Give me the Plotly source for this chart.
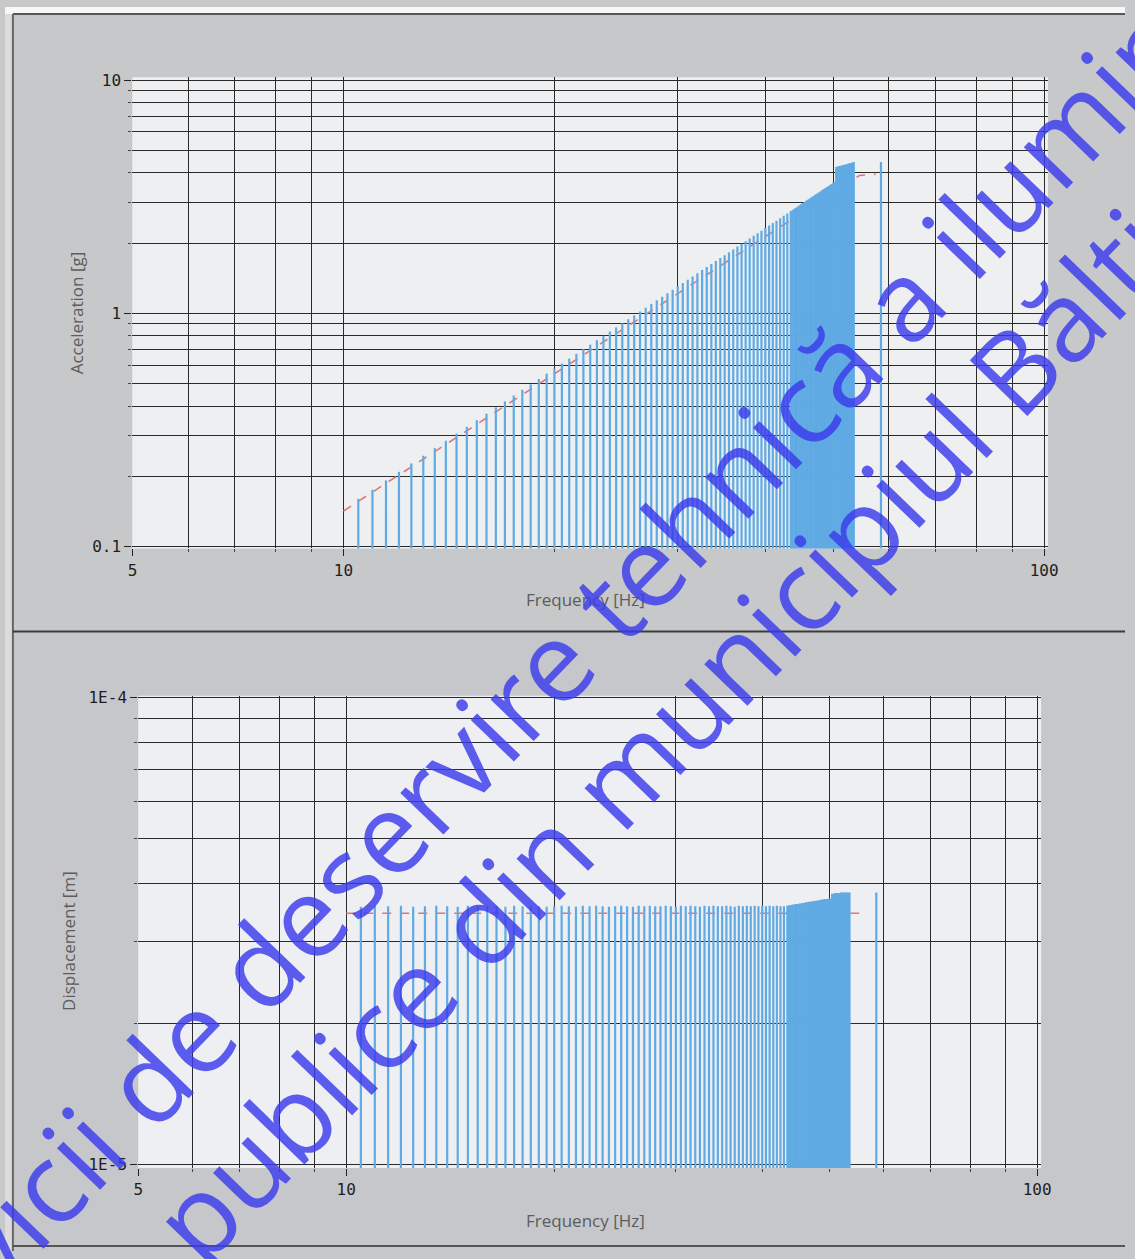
import plotly.graph_objects as go

W, H = 1135, 1259

# ---------------- data ----------------
freq_hz = [
    10.5, 11.0, 11.5, 12.0, 12.5, 13.0, 13.5, 14.0, 14.5, 15.0,
    15.5, 16.0, 16.5, 17.0, 17.5, 18.0, 18.5, 19.0, 19.5, 20.0,
    20.5, 21.0, 21.5, 22.0, 22.5, 23.0, 23.5, 24.0, 24.5, 25.0,
    25.5, 26.0, 26.5, 27.0, 27.5, 28.0, 28.5, 29.0, 29.5, 30.0,
    30.5, 31.0, 31.5, 32.0, 32.5, 33.0, 33.5, 34.0, 34.5, 35.0,
    35.5, 36.0, 36.5, 37.0, 37.5, 38.0, 38.5, 39.0, 39.5, 40.0,
    40.5, 41.0, 41.5, 42.0, 42.5, 43.0,
    43.5, 43.75, 44.0, 44.25, 44.5, 44.75, 45.0, 45.25, 45.5, 45.75,
    46.0, 46.25, 46.5, 46.75, 47.0, 47.25, 47.5, 47.75, 48.0, 48.25,
    48.5, 48.75, 49.0, 49.25, 49.5, 49.75, 50.0, 50.25,
    50.5, 50.75, 51.0, 51.25, 51.5, 51.75, 52.0, 52.25, 52.5, 52.75,
    53.0, 53.25, 53.5,
    58.5,
]

accel_g = [
    0.160, 0.175, 0.192, 0.209, 0.227, 0.245, 0.264, 0.284, 0.305, 0.326,
    0.348, 0.371, 0.395, 0.419, 0.444, 0.470, 0.496, 0.523, 0.551, 0.580,
    0.609, 0.639, 0.670, 0.702, 0.734, 0.767, 0.801, 0.835, 0.870, 0.906,
    0.943, 0.980, 1.018, 1.057, 1.097, 1.137, 1.178, 1.219, 1.262, 1.305,
    1.349, 1.393, 1.439, 1.485, 1.532, 1.579, 1.627, 1.676, 1.726, 1.776,
    1.827, 1.879, 1.932, 1.985, 2.039, 2.094, 2.149, 2.205, 2.262, 2.320,
    2.378, 2.437, 2.497, 2.558, 2.619, 2.681,
    2.744, 2.775, 2.807, 2.839, 2.871, 2.904, 2.936, 2.969, 3.002, 3.035,
    3.068, 3.102, 3.135, 3.169, 3.203, 3.237, 3.272, 3.306, 3.341, 3.376,
    3.411, 3.446, 3.481, 3.517, 3.553, 3.589, 3.625, 3.661,
    4.24, 4.26, 4.28, 4.29, 4.31, 4.33, 4.35, 4.36, 4.38, 4.40,
    4.41, 4.43, 4.45,
    4.45,
]

disp_m = [
    3.56e-5, 3.58e-5, 3.57e-5, 3.58e-5, 3.56e-5, 3.57e-5, 3.58e-5, 3.57e-5, 3.56e-5, 3.58e-5,
    3.57e-5, 3.58e-5, 3.57e-5, 3.56e-5, 3.58e-5, 3.57e-5, 3.58e-5, 3.57e-5, 3.56e-5, 3.57e-5,
    3.58e-5, 3.57e-5, 3.56e-5, 3.58e-5, 3.57e-5, 3.58e-5, 3.57e-5, 3.56e-5, 3.57e-5, 3.58e-5,
    3.57e-5, 3.56e-5, 3.58e-5, 3.57e-5, 3.58e-5, 3.57e-5, 3.57e-5, 3.58e-5, 3.57e-5, 3.56e-5,
    3.58e-5, 3.57e-5, 3.58e-5, 3.57e-5, 3.56e-5, 3.58e-5, 3.57e-5, 3.58e-5, 3.57e-5, 3.57e-5,
    3.58e-5, 3.57e-5, 3.56e-5, 3.58e-5, 3.57e-5, 3.58e-5, 3.57e-5, 3.58e-5, 3.57e-5, 3.58e-5,
    3.57e-5, 3.58e-5, 3.57e-5, 3.58e-5, 3.57e-5, 3.57e-5,
    3.58e-5, 3.59e-5, 3.59e-5, 3.60e-5, 3.60e-5, 3.61e-5, 3.61e-5, 3.62e-5, 3.62e-5, 3.63e-5,
    3.63e-5, 3.64e-5, 3.64e-5, 3.65e-5, 3.65e-5, 3.66e-5, 3.66e-5, 3.67e-5, 3.67e-5, 3.68e-5,
    3.68e-5, 3.69e-5, 3.69e-5, 3.70e-5, 3.70e-5, 3.70e-5, 3.71e-5, 3.71e-5,
    3.80e-5, 3.80e-5, 3.81e-5, 3.81e-5, 3.81e-5, 3.81e-5, 3.82e-5, 3.82e-5, 3.82e-5, 3.82e-5,
    3.82e-5, 3.82e-5, 3.82e-5,
    3.82e-5,
]

ref_acc_f = [10.0, 54.5, 57.5]
ref_acc_g = [0.142, 3.90, 3.95]
ref_disp_f = [10.0, 55.5]
ref_disp_m = [3.45e-5, 3.45e-5]

x_major = [5, 10, 100]
x_major_text = ["5", "10", "100"]
x_minor = [6, 7, 8, 9, 20, 30, 40, 50, 60, 70, 80, 90]
acc_major = [0.1, 1, 10]
acc_major_text = ["0.1", "1", "10"]
acc_minor = [0.2, 0.3, 0.4, 0.5, 0.6, 0.7, 0.8, 0.9, 2, 3, 4, 5, 6, 7, 8, 9]
disp_major = [1e-5, 1e-4]
disp_major_text = ["1E-5", "1E-4"]
disp_minor = [2e-5, 3e-5, 4e-5, 5e-5, 6e-5, 7e-5, 8e-5, 9e-5]

wm_line1 = "Servicii de deservire tehnică a iluminării"
wm_line2 = "publice din municipiul Bălți"

# ---------------- styles ----------------
STEM = "rgb(96,170,228)"
RED = "rgb(226,118,118)"
GRID = "#2a2a2a"
TICKFONT = dict(family="DejaVu Sans Mono", size=16, color="#1e1e1e")
TITLEFONT = dict(family="Open Sans", size=17, color="#5c5c5c")
WMFONT = dict(family="Open Sans", size=112, color="rgba(58,58,236,0.82)")


def stems(xs, ys, base):
    sx, sy = [], []
    for f, v in zip(xs, ys):
        sx += [f, f, None]
        sy += [base, v, None]
    return sx, sy


fig = go.Figure()

# top panel
fig.add_trace(go.Scatter(x=ref_acc_f, y=ref_acc_g, mode="lines",
                         line=dict(color=RED, width=1.6, dash="dash"),
                         xaxis="x", yaxis="y", hoverinfo="skip"))
sx, sy = stems(freq_hz, accel_g, 0.09)
fig.add_trace(go.Scatter(x=sx, y=sy, mode="lines",
                         line=dict(color=STEM, width=2.2),
                         xaxis="x", yaxis="y", hoverinfo="skip"))

# bottom panel
fig.add_trace(go.Scatter(x=ref_disp_f, y=ref_disp_m, mode="lines",
                         line=dict(color=RED, width=1.6, dash="dash"),
                         xaxis="x2", yaxis="y2", hoverinfo="skip"))
sx2, sy2 = stems(freq_hz, disp_m, 9e-6)
fig.add_trace(go.Scatter(x=sx2, y=sy2, mode="lines",
                         line=dict(color=STEM, width=2.2),
                         xaxis="x2", yaxis="y2", hoverinfo="skip"))


def px_x(p):
    return p / W


def px_y(p):
    return 1 - p / H


def xaxis_cfg(domain, rng, anchor):
    return dict(type="log", domain=domain, range=rng, anchor=anchor,
                tickmode="array", tickvals=x_major, ticktext=x_major_text,
                showgrid=True, gridcolor=GRID, gridwidth=1.4,
                ticks="outside", ticklen=7, tickwidth=1.3, tickcolor="#222",
                tickfont=TICKFONT, zeroline=False, showline=False,
                minor=dict(tickmode="array", tickvals=x_minor, showgrid=True,
                           gridcolor=GRID, gridwidth=1.4, ticks="outside",
                           ticklen=3, tickwidth=1.2, tickcolor="#444"))


def yaxis_cfg(domain, rng, anchor, vals, text, minor_vals):
    return dict(type="log", domain=domain, range=rng, anchor=anchor,
                tickmode="array", tickvals=vals, ticktext=text,
                showgrid=True, gridcolor=GRID, gridwidth=1.4,
                ticks="outside", ticklen=7, tickwidth=1.3, tickcolor="#222",
                tickfont=TICKFONT, zeroline=False, showline=False,
                minor=dict(tickmode="array", tickvals=minor_vals, showgrid=True,
                           gridcolor=GRID, gridwidth=1.4, ticks="outside",
                           ticklen=3, tickwidth=1.2, tickcolor="#444"))


top_x_dom = [px_x(129), px_x(1057)]
top_y_dom = [px_y(548), px_y(71)]
bot_x_dom = [px_x(135), px_x(1050)]
bot_y_dom = [px_y(1175), px_y(697)]

shapes = [
    dict(type="rect", xref="paper", yref="paper", x0=0, x1=1, y0=px_y(632), y1=1,
         fillcolor="#c7c8ca", line=dict(width=0), layer="below"),
    dict(type="rect", xref="paper", yref="paper", x0=0, x1=1, y0=0, y1=px_y(632),
         fillcolor="#c6c7cb", line=dict(width=0), layer="below"),
    dict(type="rect", xref="paper", yref="paper", x0=0, x1=1, y0=px_y(7), y1=1,
         fillcolor="#f7f7f7", line=dict(width=0), layer="below"),
    dict(type="rect", xref="paper", yref="paper", x0=0, x1=px_x(8), y0=0, y1=px_y(7),
         fillcolor="#dcdcdc", line=dict(width=0), layer="below"),
    dict(type="rect", xref="x domain", yref="y domain", x0=0, x1=1, y0=0, y1=1,
         fillcolor="#eeeff0", line=dict(width=0), layer="below"),
    dict(type="rect", xref="x2 domain", yref="y2 domain", x0=0, x1=1, y0=0, y1=1,
         fillcolor="#eeeff2", line=dict(width=0), layer="below"),
    dict(type="line", xref="paper", yref="paper", x0=px_x(8), x1=1, y0=px_y(7), y1=px_y(7),
         line=dict(color="#555", width=2)),
    dict(type="line", xref="paper", yref="paper", x0=px_x(8), x1=px_x(8), y0=0, y1=px_y(7),
         line=dict(color="#666", width=2)),
    dict(type="line", xref="paper", yref="paper", x0=px_x(8), x1=1, y0=px_y(632), y1=px_y(632),
         line=dict(color="#3a3a3a", width=2)),
    dict(type="line", xref="paper", yref="paper", x0=px_x(8), x1=1, y0=px_y(1254), y1=px_y(1254),
         line=dict(color="#555", width=2)),
]

annotations = [
    dict(text="Acceleration [g]", xref="paper", yref="paper", x=px_x(72), y=px_y(310),
         textangle=-90, showarrow=False, font=TITLEFONT, xanchor="center", yanchor="middle"),
    dict(text="Frequency [Hz]", xref="paper", yref="paper", x=px_x(588), y=px_y(600),
         showarrow=False, font=TITLEFONT, xanchor="center", yanchor="middle"),
    dict(text="Displacement [m]", xref="paper", yref="paper", x=px_x(65), y=px_y(945),
         textangle=-90, showarrow=False, font=TITLEFONT, xanchor="center", yanchor="middle"),
    dict(text="Frequency [Hz]", xref="paper", yref="paper", x=px_x(588), y=px_y(1228),
         showarrow=False, font=TITLEFONT, xanchor="center", yanchor="middle"),
    # watermark
    dict(text=wm_line1, xref="paper", yref="paper", x=px_x(568), y=px_y(646),
         textangle=-46, showarrow=False, xanchor="center", yanchor="middle",
         font=WMFONT),
    dict(text=wm_line2, xref="paper", yref="paper", x=px_x(664), y=px_y(735),
         textangle=-46, showarrow=False, xanchor="center", yanchor="middle",
         font=WMFONT),
]

fig.update_layout(
    width=W, height=H,
    margin=dict(l=0, r=0, t=0, b=0),
    paper_bgcolor="#c7c8ca",
    plot_bgcolor="rgba(0,0,0,0)",
    showlegend=False,
    xaxis=xaxis_cfg(top_x_dom, [0.6986, 2.0056], "y"),
    yaxis=yaxis_cfg(top_y_dom, [-1.0085, 1.0127], "x", acc_major, acc_major_text, acc_minor),
    xaxis2=xaxis_cfg(bot_x_dom, [0.69897, 2.0057], "y2"),
    yaxis2=yaxis_cfg(bot_y_dom, [-5.0085, -3.9958], "x2", disp_major, disp_major_text, disp_minor),
    shapes=shapes,
    annotations=annotations,
)

# remove the default 8px page margin so the figure fills the window exactly
fig.write_html("out.html",
               config={"displayModeBar": False},
               post_script="document.body.style.margin='0';document.body.style.overflow='hidden';")
